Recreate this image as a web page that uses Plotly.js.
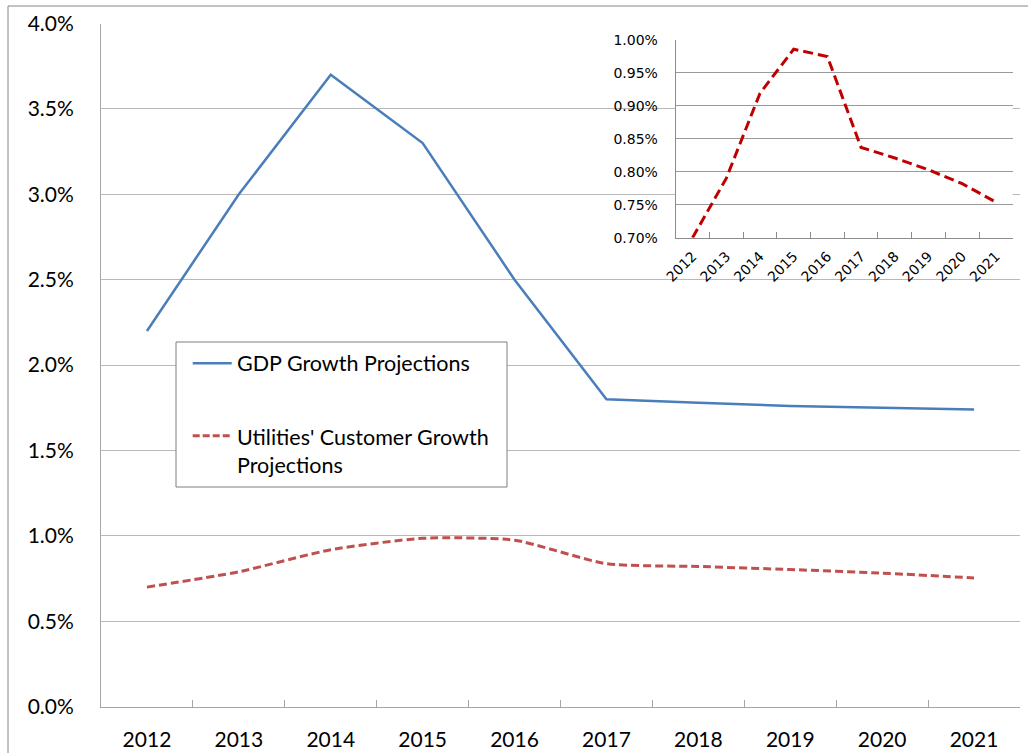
<!DOCTYPE html>
<html><head><meta charset="utf-8">
<script src="https://cdn.plot.ly/plotly-3.0.1.min.js"></script>
<style>html,body{margin:0;padding:0;background:#fff;} #chart{width:1028px;height:753px;}</style>
</head><body><div id="chart"></div>
<script>
// ---- data ----
const years = ['2012','2013','2014','2015','2016','2017','2018','2019','2020','2021'];
const gdpGrowth = [2.20, 3.00, 3.70, 3.30, 2.50, 1.80, 1.78, 1.76, 1.75, 1.74];
const customerGrowth = [0.700, 0.790, 0.919, 0.986, 0.975, 0.837, 0.821, 0.803, 0.782, 0.754];
const gdpName = 'GDP Growth Projections';
const customerName = "Utilities' Customer Growth<br>Projections";

// ---- layout helpers (pixel -> paper) ----
const W = 1028, H = 753;
const px = x => x / W;
const py = y => 1 - y / H;
const catRange = [-0.5, years.length - 0.5];

const traces = [
  {x: years, y: gdpGrowth, name: gdpName, type: 'scatter', mode: 'lines',
   line: {color: '#4a7ebb', width: 2.5}, xaxis: 'x', yaxis: 'y', hoverinfo: 'skip'},
  {x: years, y: customerGrowth, name: customerName, type: 'scatter', mode: 'lines',
   line: {color: '#c0504d', width: 3, dash: '8px,4px', shape: 'spline', smoothing: 0.6},
   xaxis: 'x', yaxis: 'y', hoverinfo: 'skip'},
  {x: years, y: customerGrowth, name: customerName, type: 'scatter', mode: 'lines',
   line: {color: '#c00000', width: 3, dash: '10px,5px'}, xaxis: 'x3', yaxis: 'y3',
   hoverinfo: 'skip', cliponaxis: true}
];

const mainFont = {family: 'Lato, sans-serif', size: 21, color: '#000'};
const legendFont = {family: 'Lato, sans-serif', size: 21.5, color: '#000'};
const insetFont = {family: '"DejaVu Sans", sans-serif', size: 14, color: '#000'};

const layout = {
  width: W, height: H,
  margin: {l: 0, r: 0, t: 0, b: 0},
  paper_bgcolor: '#fff', plot_bgcolor: '#fff',
  showlegend: false,
  font: mainFont,
  xaxis: {
    domain: [px(101), px(1020)], anchor: 'y', type: 'category', range: catRange,
    showline: true, linecolor: '#a6a6a6', linewidth: 1,
    ticks: 'inside', ticklen: 7, tickcolor: '#a6a6a6', tickson: 'boundaries',
    showgrid: false, zeroline: false, tickfont: mainFont, ticklabelstandoff: 14,
    fixedrange: true
  },
  yaxis: {
    domain: [py(706.7), py(23.5)], anchor: 'x', range: [0, 4], dtick: 0.5,
    tickformat: '.1f', ticksuffix: '%',
    showline: true, linecolor: '#a6a6a6', linewidth: 1, ticks: '',
    showgrid: true, gridcolor: '#b8b8b8', gridwidth: 1, zeroline: false,
    tickfont: mainFont, ticklabelstandoff: 22, fixedrange: true
  },
  // inset frame
  xaxis2: {
    domain: [px(604), px(1025)], anchor: 'y2', range: [0, 1],
    showline: true, mirror: true, linecolor: '#8c8c8c', linewidth: 1,
    showticklabels: false, ticks: '', showgrid: false, zeroline: false, fixedrange: true
  },
  yaxis2: {
    domain: [py(300), py(22)], anchor: 'x2', range: [0, 1],
    showline: true, mirror: true, linecolor: '#8c8c8c', linewidth: 1,
    showticklabels: false, ticks: '', showgrid: false, zeroline: false, fixedrange: true
  },
  // inset plot
  xaxis3: {
    domain: [px(675.7), px(1012.7)], anchor: 'y3', type: 'category', range: catRange,
    showline: true, linecolor: '#8c8c8c', linewidth: 1,
    ticks: 'inside', ticklen: 6, tickcolor: '#8c8c8c', tickson: 'boundaries',
    showgrid: false, zeroline: false, tickangle: -45, tickfont: insetFont,
    ticklabelstandoff: 4, fixedrange: true
  },
  yaxis3: {
    domain: [py(237.7), py(40)], anchor: 'x3', range: [0.70, 1.00], dtick: 0.05,
    tickformat: '.2f', ticksuffix: '%',
    showline: true, linecolor: '#8c8c8c', linewidth: 1, ticks: '',
    showgrid: true, gridcolor: '#9a9a9a', gridwidth: 1, zeroline: false,
    tickfont: insetFont, ticklabelstandoff: 14, fixedrange: true
  },
  shapes: [
    // outer chart frame
    {type: 'rect', xref: 'paper', yref: 'paper', x0: px(8), x1: 1.2, y0: py(6), y1: -0.2,
     line: {color: '#868686', width: 1}, fillcolor: 'rgba(0,0,0,0)', layer: 'below'},
    // legend box
    {type: 'rect', xref: 'paper', yref: 'paper', x0: px(176), x1: px(507), y0: py(342), y1: py(487),
     line: {color: '#7f7f7f', width: 1}, fillcolor: '#fff', layer: 'above'},
    // legend samples
    {type: 'line', xref: 'paper', yref: 'paper', x0: px(192.7), x1: px(231.7), y0: py(363.3), y1: py(363.3),
     line: {color: '#4a7ebb', width: 2.5}, layer: 'above'},
    {type: 'line', xref: 'paper', yref: 'paper', x0: px(192.7), x1: px(231.7), y0: py(435.7), y1: py(435.7),
     line: {color: '#c0504d', width: 3, dash: '7px,3px'}, layer: 'above'}
  ],
  annotations: [
    {xref: 'paper', yref: 'paper', x: px(235), y: py(363.3), xanchor: 'left', yanchor: 'middle',
     text: gdpName, showarrow: false, font: legendFont, align: 'left'},
    {xref: 'paper', yref: 'paper', x: px(235), y: py(451), xanchor: 'left', yanchor: 'middle',
     text: customerName, showarrow: false, font: legendFont, align: 'left'}
  ]
};

Plotly.newPlot('chart', traces, layout, {staticPlot: true, displayModeBar: false});
</script>
</body></html>
